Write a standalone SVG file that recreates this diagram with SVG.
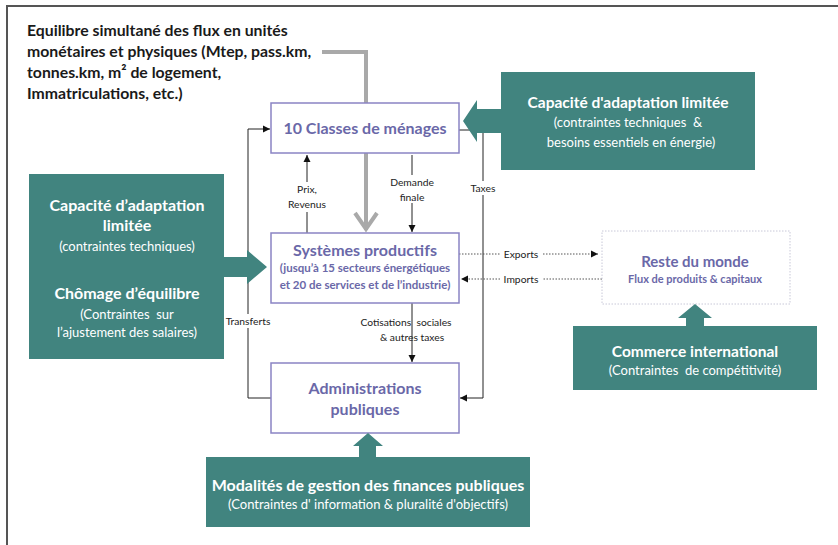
<svg xmlns="http://www.w3.org/2000/svg" width="838" height="545" viewBox="0 0 838 545">
<defs>
<marker id="ah" markerWidth="8" markerHeight="8" refX="7" refY="4" orient="auto" markerUnits="userSpaceOnUse">
<path d="M0,0.5 L7,4 L0,7.5 Z" fill="#111"/>
</marker>
<style>
.frame{stroke:#555;stroke-width:2;fill:none}
.box{fill:#fff;stroke:#8a84c4;stroke-width:1.5}
.rdm{fill:#fff;stroke:#c8c8d8;stroke-width:1;stroke-dasharray:1.5 1.5}
.teal{fill:#41847f}
.line{stroke:#222;stroke-width:1;fill:none}
.dot{stroke:#555;stroke-width:1;fill:none;stroke-dasharray:1.5 1.5}
.gray{stroke:#a9a9a9;stroke-width:4;fill:none}
.t{font-family:Lato,"Liberation Sans",sans-serif}
.title{font-weight:bold;font-size:15.8px;fill:#1a1a1a}
.ptitle{font-weight:bold;font-size:16px;fill:#6a68a8;text-anchor:middle}
.psub{font-weight:bold;font-size:11.5px;fill:#6a68a8;text-anchor:middle}
.wt{font-weight:bold;font-size:15.5px;fill:#fff;text-anchor:middle}
.ws{font-size:13px;fill:#fff;text-anchor:middle}
.lbl{font-size:10.3px;fill:#222;text-anchor:middle}
</style>
</defs>
<rect width="838" height="545" fill="#fff"/>
<path class="frame" d="M7,545 L7,6 L838,6"/>

<g id="title">
<text class="t title" x="27" y="36">Equilibre simultané des flux en unités</text>
<text class="t title" x="27" y="57">monétaires et physiques (Mtep, pass.km,</text>
<text class="t title" x="27" y="78">tonnes.km, m² de logement,</text>
<text class="t title" x="27" y="99">Immatriculations, etc.)</text>
</g>

<g id="connectors">
<path class="gray" d="M322,52 L366,52 L366,230"/>
<path class="gray" d="M355,213 L366,229 L377,213"/>
<!-- Prix, Revenus -->
<path class="line" d="M307,233 L307,155" marker-end="url(#ah)"/>
<!-- Demande finale -->
<path class="line" d="M412,155 L412,232" marker-end="url(#ah)"/>
<!-- Cotisations -->
<path class="line" d="M412,303 L412,362" marker-end="url(#ah)"/>
<!-- Transferts -->
<path class="line" d="M271,398 L248,398 L248,129 L270,129" marker-end="url(#ah)"/>
<!-- Taxes -->
<path class="line" d="M459,130 L483,130 L483,398 L460,398" marker-end="url(#ah)"/>
<!-- Exports / Imports -->
<path class="dot" d="M459,254 L598,254" marker-end="url(#ah)"/>
<path class="dot" d="M602,279 L461,279" marker-end="url(#ah)"/>
<!-- labels -->
<rect x="284" y="182" width="46" height="30" fill="#fff"/>
<text class="t lbl" x="307" y="193">Prix,</text>
<text class="t lbl" x="307" y="208">Revenus</text>
<rect x="386" y="175" width="52" height="28" fill="#fff"/>
<text class="t lbl" x="412" y="186">Demande</text>
<text class="t lbl" x="412" y="201">finale</text>
<rect x="470" y="181" width="26" height="14" fill="#fff"/>
<text class="t lbl" x="483" y="192">Taxes</text>
<rect x="224" y="314" width="48" height="14" fill="#fff"/>
<text class="t lbl" x="248" y="325">Transferts</text>
<text class="t lbl" x="406" y="326" xml:space="preserve">Cotisations  sociales</text>
<text class="t lbl" x="412" y="341">&amp; autres taxes</text>
<rect x="500" y="247" width="42" height="14" fill="#fff"/>
<text class="t lbl" x="521" y="258">Exports</text>
<rect x="500" y="272" width="42" height="14" fill="#fff"/>
<text class="t lbl" x="521" y="283">Imports</text>
</g>

<g id="menages">
<rect class="box" x="271" y="103" width="188" height="50"/>
<text class="t ptitle" x="365" y="134">10 Classes de ménages</text>
</g>

<g id="systemes">
<rect class="box" x="271" y="233" width="188" height="70"/>
<text class="t ptitle" x="365" y="256">Systèmes productifs</text>
<text class="t psub" x="365" y="272">(jusqu’à 15 secteurs énergétiques</text>
<text class="t psub" x="365" y="289">et 20 de services et de l’industrie)</text>
</g>

<g id="administrations">
<rect class="box" x="271" y="363" width="188" height="70"/>
<text class="t ptitle" x="365" y="394">Administrations</text>
<text class="t ptitle" x="365" y="415">publiques</text>
</g>

<g id="reste-du-monde">
<rect class="rdm" x="602" y="231" width="188" height="73"/>
<text class="t ptitle" x="695" y="267" style="font-size:15px">Reste du monde</text>
<text class="t psub" x="695" y="283" style="font-size:11px">Flux de produits &amp; capitaux</text>
</g>

<g id="capacite-menages">
<rect class="teal" x="501" y="72" width="254" height="98"/>
<path class="teal" d="M463,121 L477,100 L477,109 L502,109 L502,133 L477,133 L477,142 Z"/>
<text class="t wt" x="628" y="108">Capacité d'adaptation limitée</text>
<text class="t ws" x="628" y="127" xml:space="preserve">(contraintes techniques  &amp;</text>
<text class="t ws" x="631" y="147">besoins essentiels en énergie)</text>
</g>

<g id="capacite-systemes">
<rect class="teal" x="29" y="174" width="195" height="185"/>
<path class="teal" d="M223,257 L247,257 L247,250 L267,267 L247,284 L247,277 L223,277 Z"/>
<text class="t wt" x="127" y="211" style="font-size:16px">Capacité d’adaptation</text>
<text class="t wt" x="127" y="231" style="font-size:16px">limitée</text>
<text class="t ws" x="127" y="251">(contraintes techniques)</text>
<text class="t wt" x="127" y="299" style="font-size:16px">Chômage d’équilibre</text>
<text class="t ws" x="127" y="319" xml:space="preserve">(Contraintes  sur</text>
<text class="t ws" x="127" y="337">l’ajustement des salaires)</text>
</g>

<g id="commerce-international">
<rect class="teal" x="573" y="326" width="244" height="64"/>
<path class="teal" d="M686,327 L686,318 L678,318 L695,304 L712,318 L704,318 L704,327 Z"/>
<text class="t wt" x="695" y="357">Commerce international</text>
<text class="t ws" x="695" y="375" xml:space="preserve">(Contraintes  de compétitivité)</text>
</g>

<g id="finances-publiques">
<rect class="teal" x="206" y="457" width="324" height="70"/>
<path class="teal" d="M359,458 L359,446 L353,446 L368,433 L383,446 L376,446 L376,458 Z"/>
<text class="t wt" x="368" y="491" style="font-size:16px">Modalités de gestion des finances publiques</text>
<text class="t ws" x="368" y="509">(Contraintes d' information &amp; pluralité d'objectifs)</text>
</g>
</svg>
